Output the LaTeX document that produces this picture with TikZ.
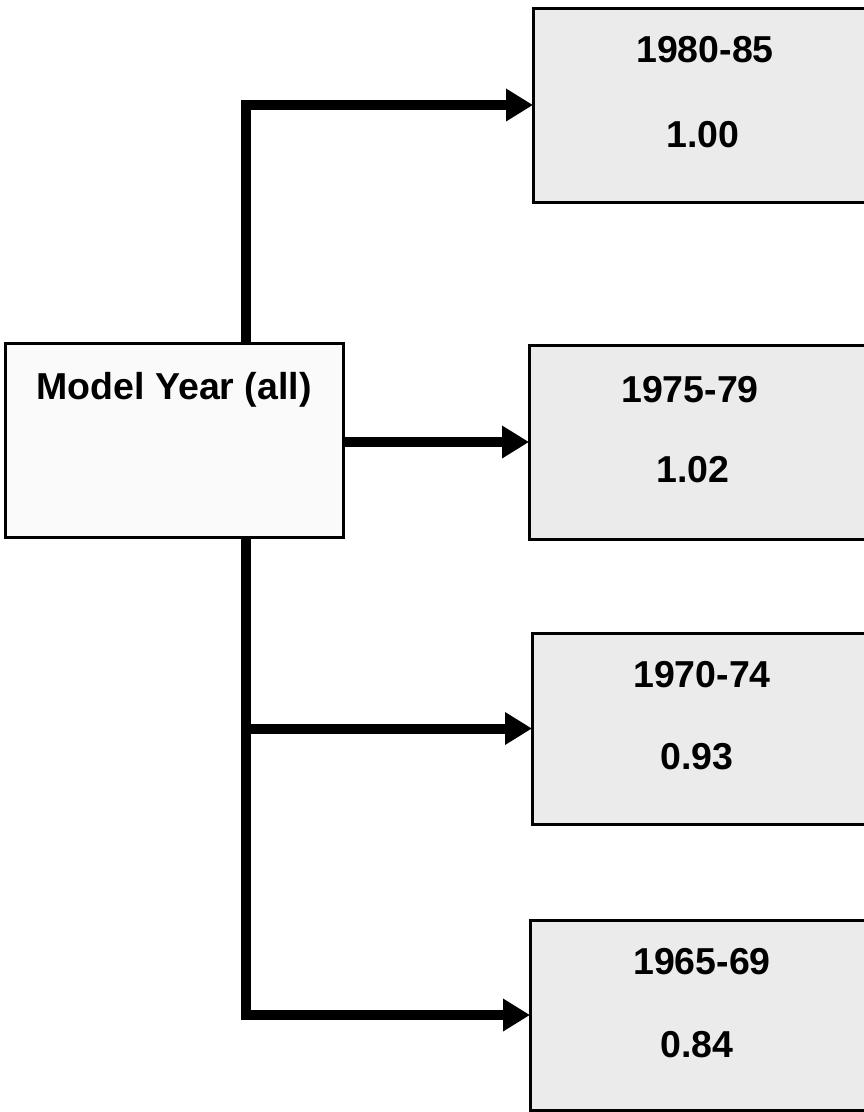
\documentclass[tikz,border=0pt]{standalone}
\usepackage{fontspec}
\setmainfont{Liberation Sans}
\usetikzlibrary{arrows.meta}
\begin{document}
\begin{tikzpicture}[x=1pt,y=-1pt,
  box/.style={draw=black,line width=3pt,rectangle,anchor=north west,inner sep=0pt,outer sep=0pt},
  rbox/.style={box,fill=black!8},
  lbox/.style={box,fill=black!2},
  lbl/.style={font=\fontsize{37.5}{44}\selectfont\bfseries,inner sep=0pt},
  conn/.style={line width=10pt,line join=miter,-{Triangle[length=27pt,width=31pt]}}]
\useasboundingbox (0,0) rectangle (864,1112);
\clip (0,0) rectangle (864,1112);
\fill[white] (0,0) rectangle (864,1112);
% boxes
\node[lbox,minimum width=338pt,minimum height=194pt] (L) at (5,343) {};
\node[rbox,minimum width=340pt,minimum height=194pt] (b1) at (533,8) {};
\node[rbox,minimum width=344pt,minimum height=194pt] (b2) at (529,345) {};
\node[rbox,minimum width=340pt,minimum height=191pt] (b3) at (532,633) {};
\node[rbox,minimum width=342pt,minimum height=190pt] (b4) at (530,920) {};
% texts
\node[lbl] (tL) at (174,390) {Model Year (all)};
\node[lbl] (t1a) at (705,50) {1980-85};
\node[lbl] (t1b) at (703,135) {1.00};
\node[lbl] (t2a) at (690,390) {1975-79};
\node[lbl] (t2b) at (693,470) {1.02};
\node[lbl] (t3a) at (702,675) {1970-74};
\node[lbl] (t3b) at (697,757) {0.93};
\node[lbl] (t4a) at (702,962) {1965-69};
\node[lbl] (t4b) at (697,1045) {0.84};
% connectors
\coordinate (t) at (246,0);
\draw[conn] (L.north -| t) |- (b1.west);
\draw[conn] (L.east |- b2.west) -- (b2.west);
\draw[conn] (L.south -| t) |- (b4.west);
\draw[conn] (t |- b3.west) -- (b3.west);
\end{tikzpicture}
\end{document}
